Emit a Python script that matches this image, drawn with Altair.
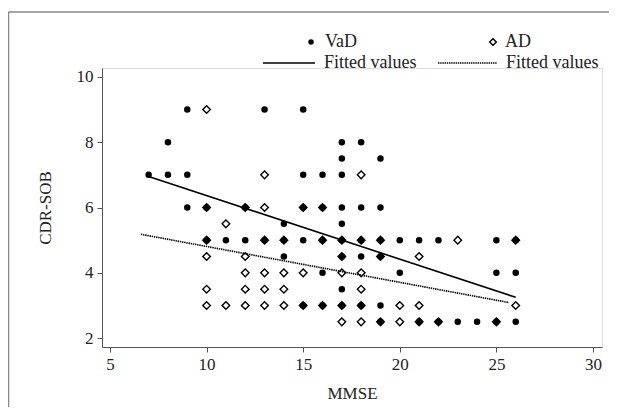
import altair as alt
import pandas as pd

# ---- data ----
vad_mmse = [7, 8, 8, 9, 9, 9, 10, 10, 11, 12, 12, 13, 13,
            14, 14, 14, 15, 15, 15, 15, 15, 16, 16, 16, 16, 16,
            17, 17, 17, 17, 17, 17, 17, 17, 17,
            18, 18, 18, 18, 18, 19, 19, 19, 19, 19, 19,
            20, 20, 21, 21, 22, 22, 23, 24, 25, 25, 25, 26, 26, 26]
vad_cdr = [7, 8, 7, 9, 7, 6, 6, 5, 5, 6, 5, 9, 5,
           5.5, 5, 4.5, 9, 7, 6, 5, 3, 7, 6, 5, 4, 3,
           8, 7.5, 7, 6, 5.5, 5, 4.5, 3.5, 3,
           8, 6, 5, 4.5, 3, 7.5, 6, 5, 4.5, 3, 2.5,
           5, 4, 5, 2.5, 5, 2.5, 2.5, 2.5, 5, 4, 2.5, 5, 4, 2.5]

ad_mmse = [10, 10, 10, 10, 10, 10, 11, 11, 12, 12, 12, 12, 12,
           13, 13, 13, 13, 13, 13, 14, 14, 14, 14, 15, 15, 15,
           16, 16, 16, 17, 17, 17, 17, 17, 18, 18, 18, 18, 18, 18,
           19, 19, 19, 20, 20, 21, 21, 21, 22, 23, 25, 26, 26]
ad_cdr = [9, 6, 5, 4.5, 3.5, 3, 5.5, 3, 6, 4.5, 4, 3.5, 3,
          7, 6, 5, 4, 3.5, 3, 5, 4, 3.5, 3, 6, 4, 3,
          6, 5, 3, 5, 4.5, 4, 3, 2.5, 7, 5, 4, 3.5, 3, 2.5,
          5, 4.5, 2.5, 3, 2.5, 4.5, 3, 2.5, 2.5, 5, 2.5, 5, 3]

fit_vad_mmse = [7, 26]
fit_vad_cdr = [6.95, 3.25]
fit_ad_mmse = [6.6, 25.65]
fit_ad_cdr = [5.18, 3.09]

x_ticks = [5, 10, 15, 20, 25, 30]
y_ticks = [2, 4, 6, 8, 10]
legend_labels = ["VaD", "AD", "Fitted values", "Fitted values"]

FONT = "Liberation Serif"
AXC = "#555555"
W, H = 500, 279

vad = pd.DataFrame({"mmse": vad_mmse, "cdr": vad_cdr})
ad = pd.DataFrame({"mmse": ad_mmse, "cdr": ad_cdr})
fv = pd.DataFrame({"mmse": fit_vad_mmse, "cdr": fit_vad_cdr})
fa = pd.DataFrame({"mmse": fit_ad_mmse, "cdr": fit_ad_cdr})
one = pd.DataFrame({"a": [0]})

xs = alt.Scale(domain=[4.586, 30.466], nice=False, zero=False)
ys = alt.Scale(domain=[1.73, 10.27], nice=False, zero=False)

xax = alt.Axis(values=x_ticks, title="MMSE", grid=False, domainColor=AXC, tickColor=AXC,
               tickSize=5, labelPadding=4, labelFont=FONT, labelFontSize=17, labelColor="#222",
               titleFont=FONT, titleFontSize=17, titleFontWeight="normal", titleColor="#222",
               titleY=46, titleBaseline="middle", labelFlush=False)
yax = alt.Axis(values=y_ticks, title="CDR-SOB", grid=False, domainColor=AXC, tickColor=AXC,
               tickSize=5, labelPadding=4, labelFont=FONT, labelFontSize=17, labelColor="#222",
               labelAngle=0, titleFont=FONT, titleFontSize=17, titleFontWeight="normal",
               titleColor="#222", titleX=-57, titleY=H / 2, titleBaseline="middle",
               titleAlign="center", titleAngle=270, labelFlush=False)

base_x = alt.X("mmse:Q", scale=xs, axis=xax)
base_y = alt.Y("cdr:Q", scale=ys, axis=yax)

pts_vad = alt.Chart(vad).mark_point(shape="circle", filled=True, color="black", size=42,
                                    opacity=1).encode(x=base_x, y=base_y)
pts_ad = alt.Chart(ad).mark_point(shape="diamond", filled=False, color="black", size=58,
                                  strokeWidth=1.4, opacity=1).encode(
    x=alt.X("mmse:Q", scale=xs), y=alt.Y("cdr:Q", scale=ys))
line_vad = alt.Chart(fv).mark_line(color="black", strokeWidth=1.6).encode(
    x=alt.X("mmse:Q", scale=xs), y=alt.Y("cdr:Q", scale=ys))
line_ad = alt.Chart(fa).mark_line(color="black", strokeWidth=1.6, strokeDash=[1.4, 0.8]).encode(
    x=alt.X("mmse:Q", scale=xs), y=alt.Y("cdr:Q", scale=ys))

# outer frame (top and left edges as in the reference)
frame = [
    alt.Chart(one).mark_rule(color="#888888", strokeWidth=1.5)
    .encode(x=alt.value(-93.5), x2=alt.value(507), y=alt.value(-56)),
    alt.Chart(one).mark_rule(color="#888888", strokeWidth=1.5)
    .encode(x=alt.value(-93.5), y=alt.value(-56), y2=alt.value(345)),
]

LY1, LY2 = -26, -5
leg = [
    alt.Chart(one).mark_point(shape="circle", filled=True, color="black", size=30, opacity=1)
    .encode(x=alt.value(209), y=alt.value(LY1)),
    alt.Chart(one).mark_text(align="left", baseline="middle", font=FONT, fontSize=18, color="#222")
    .encode(x=alt.value(223), y=alt.value(LY1), text=alt.value(legend_labels[0])),
    alt.Chart(one).mark_point(shape="diamond", filled=False, color="black", size=45,
                              strokeWidth=1.4, opacity=1)
    .encode(x=alt.value(391), y=alt.value(LY1)),
    alt.Chart(one).mark_text(align="left", baseline="middle", font=FONT, fontSize=18, color="#222")
    .encode(x=alt.value(403), y=alt.value(LY1), text=alt.value(legend_labels[1])),
    alt.Chart(one).mark_rule(color="black", strokeWidth=1.6)
    .encode(x=alt.value(161), x2=alt.value(213), y=alt.value(LY2)),
    alt.Chart(one).mark_text(align="left", baseline="middle", font=FONT, fontSize=18, color="#222")
    .encode(x=alt.value(222), y=alt.value(LY2), text=alt.value(legend_labels[2])),
    alt.Chart(one).mark_rule(color="black", strokeWidth=1.6, strokeDash=[1.4, 0.8])
    .encode(x=alt.value(336), x2=alt.value(395), y=alt.value(LY2)),
    alt.Chart(one).mark_text(align="left", baseline="middle", font=FONT, fontSize=18, color="#222")
    .encode(x=alt.value(404), y=alt.value(LY2), text=alt.value(legend_labels[3])),
]

chart = alt.layer(*frame, pts_vad, pts_ad, line_vad, line_ad, *leg).properties(
    width=W, height=H,
    autosize=alt.AutoSizeParams(type="none"),
    padding={"left": 94, "top": 60, "right": 7, "bottom": 60},
).configure_view(stroke=None).configure(background="white")

chart.save("out.html", embed_options={"renderer": "svg", "actions": False})
